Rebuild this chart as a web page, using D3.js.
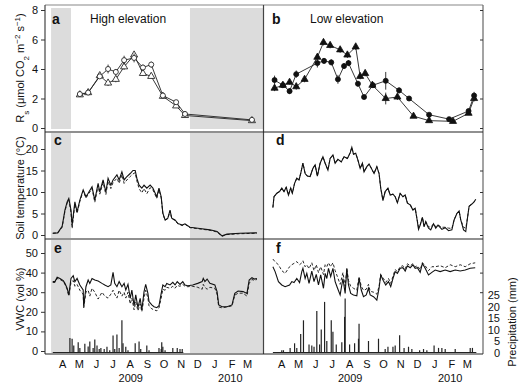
<!DOCTYPE html>
<html><head><meta charset="utf-8">
<script src="https://cdn.jsdelivr.net/npm/d3@7"></script>
<style>
body{margin:0;background:#fff}
svg{display:block}
text{font-family:"Liberation Sans",Arial,Helvetica,sans-serif;fill:#111}
</style>
</head><body>
<svg id="chart" width="520" height="390"></svg>
<script>
// ---------- DATA (day offsets counted from 14 Mar 2009) ----------
const monthLabels = ["A","M","J","J","A","S","O","N","D","J","F","M"];
const monthDates  = ["2009-04-15","2009-05-15","2009-06-15","2009-07-15","2009-08-15","2009-09-15","2009-10-15","2009-11-15","2009-12-15","2010-01-15","2010-02-15","2010-03-15"];
const yearLabels  = ["2009","2010"];
const yearDates   = ["2009-08-16","2010-02-12"];
const rsTicks   = [0,2,4,6,8];
const tempTicks = [0,5,10,15,20];
const vwcTicks  = [0,10,20,30,40,50];
const precTicks = [0,5,10,15,20,25];

// shaded (snow) periods, high elevation: [startDay, endDay]
const shadeHigh = [[11,47],[262,394]];

// Panel a: Rs high elevation
const rsHighDay      = [63,78,99,114,128,143,161,177,192,213,237,253,374];
const rsHighCircle   = [2.3,2.4,3.5,4.0,3.8,4.6,4.75,4.1,4.3,2.2,1.75,0.95,0.55];
const rsHighCircleE  = [0.1,0.1,0.15,0.3,0.2,0.3,0.3,0.2,0.2,0.1,0.1,0.05,0.05];
const rsHighTri      = [2.25,2.4,3.55,3.05,3.3,4.15,4.95,3.7,3.5,2.15,1.5,0.85,0.5];
const rsHighTriE     = [0.1,0.1,0.15,0.2,0.2,0.2,0.2,0.15,0.15,0.1,0.1,0.05,0.05];

// Panel b: Rs low elevation
const rsLowCircleDay = [19,34,46,58,96,108,121,133,144,152,169,180,196,219,243,261,297,333,368,378];
const rsLowCircle    = [3.25,2.9,2.5,3.65,4.4,4.55,4.45,3.3,4.2,4.4,3.0,2.1,2.9,3.2,2.55,2.0,0.9,0.6,1.15,2.2];
const rsLowCircleE   = [0.3,0.15,0.2,0.25,0.3,0.2,0.2,0.3,0.2,0.2,0.2,0.15,0.15,0.6,0.2,0.15,0.1,0.1,0.15,0.25];
const rsLowTriDay    = [19,34,46,58,73,96,107,119,137,150,165,173,182,195,219,240,269,297,340,368,378];
const rsLowTri       = [2.7,2.9,3.1,2.8,3.3,4.8,5.8,5.6,5.3,4.95,5.5,3.5,3.7,2.9,2.0,2.1,0.8,0.5,0.45,1.0,2.0];
const rsLowTriE      = [0.2,0.15,0.15,0.2,0.2,0.2,0.2,0.2,0.2,0.2,0.2,0.2,0.2,0.15,0.4,0.2,0.1,0.1,0.1,0.1,0.2];

// Panel c: soil temperature high elevation
const tempHighDay    = [14,23,31,36,40,43,47,49,54,58,63,69,74,78,85,90,96,99,105,110,114,119,123,130,134,139,143,148,154,159,163,166,170,175,179,184,190,195,202,206,210,213,217,222,226,229,235,240,248,253,262,280,298,311,320,329,352,383];
const tempHighSolid  = [0.4,0.5,2,5.8,7.7,8.5,5.8,2.3,7.7,5.4,8.1,10.5,8.9,9.7,11.2,8.1,12,10,12.8,10,13.2,11.6,12.8,14,12.8,14.7,12.8,13.6,14.3,15,15,13.2,11.6,10.9,11.6,10.9,11.6,10.9,8.9,10.9,8.9,5.1,3.5,3.9,5.8,3.9,3.5,2.7,2.3,2.6,1.8,1.5,1.2,0.8,-0.2,0.2,0.4,0.5];
const tempHighDash   = [0.4,0.5,1.8,5.5,7.4,8.2,5.2,1.5,7.2,5.0,7.8,10.2,8.6,9.4,10.8,7.6,11.5,9.5,12.2,9.4,12.5,10.8,12.2,13.2,12.0,14.0,12.0,12.8,13.6,14.2,14.5,12.6,10.8,9.8,10.8,9.6,11.0,10.5,8.5,10.5,8.6,5.0,3.4,3.8,5.6,3.8,3.4,2.6,2.2,2.5,1.7,1.4,1.1,0.7,-0.3,0.1,0.3,0.4];

// Panel d: soil temperature low elevation
const tempLowDay     = [16,18,23,28,32,36,40,44,48,51,55,59,63,66,70,74,78,83,88,92,96,101,106,110,115,119,124,128,133,139,144,150,155,158,161,165,169,173,177,180,185,189,194,198,203,207,210,214,218,223,227,232,236,240,245,250,254,258,263,268,272,275,278,281,285,288,291,296,300,305,309,313,320,326,332,338,342,347,351,354,359,363,366,369,374,378,381];
const tempLowSolid   = [6.4,8.9,9.7,10.1,10.9,10.1,11.1,9.3,10.9,9.7,12,13.2,12.8,14.3,16.7,14.3,13.7,13.6,15.5,16.3,13.7,16.7,18.2,16.7,15.1,17.8,18.6,16.7,17.6,17,18.2,17.8,19.1,20.4,18.8,19,17.4,15.5,16.7,14.7,15.9,16.5,15.3,14.3,15.9,14.3,10.9,8,10.1,10.9,9.3,9.5,8.9,7.5,9.7,8.9,9.3,7.4,7,5.8,6.2,3.9,1.3,2.3,4.1,1.9,3.1,1.6,1.2,2.6,1.6,2.3,1.3,1.7,1.0,1.2,3.5,5,5.6,3.5,1.2,0.8,3.9,6.7,7.2,7.7,8.3];
const tempLowDash    = [6.4,8.9,9.7,10.1,10.9,10.1,11.1,9.3,10.9,9.7,12,13.2,12.8,14.3,16.7,14.3,13.7,13.6,15.5,16.3,13.7,16.7,18.2,16.7,15.1,17.8,18.6,16.7,17.6,17,18.2,17.8,19.1,20.4,18.8,19,17.4,15.5,16.7,14.7,15.9,16.5,15.3,14.3,15.9,14.3,10.9,8.2,10.1,10.9,9.3,9.5,8.9,7.6,9.7,8.9,9.3,7.5,7.1,5.9,6.2,4.0,1.8,2.4,4.1,2.2,3.1,1.9,1.8,2.6,1.9,2.3,1.8,1.8,1.6,1.5,3.5,5,5.6,3.5,1.8,1.6,3.9,6.7,7.2,7.7,8.3];

// Panel e: VWC high elevation
const vwcHighDay     = [14,18,22,27,33,36,40,43,47,51,54,58,63,69,70,74,78,81,85,90,96,103,108,114,119,123,126,130,134,139,143,146,150,154,157,161,164,168,172,175,179,182,186,188,193,197,202,206,210,213,217,220,226,231,235,239,244,249,253,258,267,276,284,286,289,293,298,307,311,314,320,329,338,343,349,358,365,369,374,378,383];
const vwcHighSolid   = [35.4,35.4,37.6,37,35.9,34.5,32,28.6,37,38.4,35.4,37,33.7,31.1,22.6,32.8,36.2,34.5,37,36.2,35.7,34.5,33.7,32.8,33.7,40.1,34.5,32.8,35.4,32.8,34.5,31.1,34,26.9,31.1,23.1,28.6,22.1,26.9,20.9,30.3,34,29.4,25.2,23.5,22.6,22.1,23.1,29.4,33.7,32.8,34.5,33.7,35,33.7,35.4,34,35.4,33.7,33.3,33.7,34.5,35.4,37,35.4,36.7,34.5,33.7,30.3,23.5,22.6,22.6,23.5,29.4,30.6,30.3,29.4,36.2,37.4,36.7,37];
const vwcHighDash    = [35,35,37,36.5,35.5,34,31.5,28,35,36,33,34,31,29,22,30,31,28,32,30,26.5,30,28,27,29,31,29,27,31,28,30,27,30,24,27,21,25,20.5,24,20,27,31,27,23,21.5,21,20.5,22,27,31.5,31,32.5,32,33,32,33.5,33,34,33,32.8,33,32.5,31.5,34,32.5,31.5,32.5,32,29,22.5,22,22.5,23,28.5,29.5,29.5,28,34.5,36.5,36,36.5];

// Panel f: VWC low elevation
const vwcLowDay      = [16,20,26,32,38,46,50,54,59,64,68,70,74,77,81,86,90,94,98,102,107,110,113,116,120,124,128,132,137,142,146,149,152,156,161,167,171,175,179,184,188,191,197,203,207,210,215,219,224,228,233,236,240,245,250,254,258,263,268,272,276,281,285,290,296,302,308,317,326,335,344,353,362,371,380];
const vwcLowSolid    = [43,40.5,35.4,33.7,32.8,33.7,35.4,34.9,37,34.9,40.5,42.2,37,39.6,34.5,40.8,35.4,39.1,33.7,38.8,32,39.6,37,42.2,37.9,42.2,35.4,32.3,28.6,37,29.4,42.2,33.7,29.4,28.6,28.2,37,31.1,27.7,28.6,32,28.6,27.7,26,32,38.8,35.7,33.7,35.4,32.8,37.9,40.5,39.6,42.2,42.5,40.8,43.5,42.5,43.9,42.2,42.5,40.1,44.7,42.2,38.8,40.1,41.3,40.5,41.3,40.5,41.3,40.8,41.3,42.2,42.5];
const vwcLowDash     = [46.9,45.5,44,41,39.6,43,44,44.7,45.6,44,45,46,43,44,42,45,41,44,40,43,39,44,43,45,43,45,41,38,34,40,33,42,36,33,32,31,38,33,31,31.5,34,30.5,30,29,33,39,37,35,37,34.5,39,41.5,40.5,43,43.5,42,44.5,43.5,44.5,43,43.5,41.5,45,43.5,41,43,43,43.5,42.5,44,43,44,43,44.5,45];

// Precipitation (mm); record periods [startDay, endDay]
const precHighRange  = [14,250];
const precHighDay    = [45,49,52,60,63,72,78,81,87,90,94,98,101,107,112,117,123,126,130,134,139,141,146,150,163,170,173,184,188,206,210,211,213,217,231,239,244,248];
const precHigh       = [6.3,6,3,4.5,2,3.8,2.6,4.8,2,5.7,3,1.5,2,1.5,2.5,1,7.4,1.5,7.8,2,14,4,2.5,1,4,4.8,1.5,3,1,2,1.5,4.5,2.5,1,2,2,1.5,1.5];
const precLowRange   = [16,382];
const precLowDay     = [32,35,47,55,59,66,71,81,86,90,95,100,103,109,113,121,124,130,140,145,146,154,163,170,171,188,206,218,223,232,236,244,252,260,266,280,287,293,306,314,320,326,344,371,375];
const precLow        = [1,1,2,4,2,8,14,3.5,3,2.5,18,3.5,10,22,5,14,9,3.5,4.5,15.5,23.5,3.5,4,6,12.5,5,6,1.5,2.5,2.5,3,7.5,2,2.5,1.5,1,1.5,1,3,2,2,1.5,1.5,2,2];

// ---------- DRAWING ----------
const svg = d3.select("#chart");
const START = new Date(2009, 2, 14);
const END = d3.timeDay.offset(START, 394);
const toDate = d => d3.timeDay.offset(START, d);
const parse = d3.timeParse("%Y-%m-%d");

const xL = d3.scaleTime().domain([START, END]).range([45, 263]);
const xR = d3.scaleTime().domain([START, END]).range([264, 483]);

const yRs   = d3.scaleLinear().domain([0, 8]).range([128, 10]);
const yTemp = d3.scaleLinear().domain([0, 20]).range([235, 149]);
const yVwc  = d3.scaleLinear().domain([0, 50]).range([351, 253]);
const yPrec = d3.scaleLinear().domain([0, 25]).range([352.5, 295]);

// shading
const shadeG = svg.append("g");
[[8,129],[133,238],[240,353]].forEach(([y0,y1]) => {
  shadeHigh.forEach(([d0,d1]) => {
    shadeG.append("rect")
      .attr("x", xL(toDate(d0))).attr("y", y0)
      .attr("width", xL(toDate(d1)) - xL(toDate(d0))).attr("height", y1 - y0)
      .attr("fill", "#dcdcdc");
  });
});

// frame
const frame = svg.append("g").attr("stroke-width", 1.2).attr("fill", "none");
frame.append("line").attr("x1",45).attr("x2",483).attr("y1",5).attr("y2",5).attr("stroke","#888");
frame.append("line").attr("x1",483).attr("x2",483).attr("y1",5).attr("y2",354).attr("stroke","#666");
frame.append("line").attr("x1",45).attr("x2",45).attr("y1",5).attr("y2",354).attr("stroke","#444");
frame.append("line").attr("x1",263.5).attr("x2",263.5).attr("y1",5).attr("y2",354).attr("stroke","#444");
frame.append("line").attr("x1",45).attr("x2",483).attr("y1",132).attr("y2",132).attr("stroke","#222");
frame.append("line").attr("x1",45).attr("x2",483).attr("y1",239).attr("y2",239).attr("stroke","#222");
frame.append("line").attr("x1",45).attr("x2",483).attr("y1",354).attr("y2",354).attr("stroke","#222");

// axes
function leftAxis(scale, ticks) {
  const g = svg.append("g").attr("transform", "translate(45,0)")
    .call(d3.axisLeft(scale).tickValues(ticks).tickSize(4).tickPadding(3));
  g.select(".domain").remove();
  g.selectAll("line").attr("stroke", "#333");
  g.selectAll("text").style("font-size", "11px").attr("fill", "#222");
}
function innerRight(scale, ticks) {
  const g = svg.append("g").attr("transform", "translate(483,0)")
    .call(d3.axisLeft(scale).tickValues(ticks).tickSize(3).tickFormat(""));
  g.select(".domain").remove();
  g.selectAll("line").attr("stroke", "#333");
}
leftAxis(yRs, rsTicks);
leftAxis(yTemp, tempTicks);
leftAxis(yVwc, vwcTicks);
innerRight(yRs, rsTicks);
innerRight(yTemp, tempTicks);
innerRight(yVwc, vwcTicks.filter(v => v >= 30));
{
  const g = svg.append("g").attr("transform", "translate(483,0)")
    .call(d3.axisRight(yPrec).tickValues(precTicks).tickSize(0).tickPadding(5));
  g.select(".domain").remove();
  g.selectAll("text").style("font-size", "11px").attr("fill", "#222")
    .attr("text-anchor", "end").attr("x", 17);
}

// month + year labels
[xL, xR].forEach(x => {
  monthLabels.forEach((m, i) => {
    svg.append("text").attr("x", x(parse(monthDates[i]))).attr("y", 368)
      .attr("text-anchor", "middle").style("font-size", "11px").text(m);
  });
  yearLabels.forEach((y, i) => {
    svg.append("text").attr("x", x(parse(yearDates[i]))).attr("y", 382)
      .attr("text-anchor", "middle").style("font-size", "11px").text(y);
  });
});

// helper for time-series lines
function drawLine(x, y, days, vals, dashed) {
  const line = d3.line().x((d, i) => x(toDate(days[i]))).y(d => y(d));
  svg.append("path").datum(vals).attr("d", line)
    .attr("fill", "none").attr("stroke", "#111")
    .attr("stroke-width", dashed ? 0.9 : 1.1)
    .attr("stroke-dasharray", dashed ? "3,2" : null);
}
drawLine(xL, yTemp, tempHighDay, tempHighDash, true);
drawLine(xL, yTemp, tempHighDay, tempHighSolid, false);
drawLine(xR, yTemp, tempLowDay, tempLowDash, true);
drawLine(xR, yTemp, tempLowDay, tempLowSolid, false);
drawLine(xL, yVwc, vwcHighDay, vwcHighDash, true);
drawLine(xL, yVwc, vwcHighDay, vwcHighSolid, false);
drawLine(xR, yVwc, vwcLowDay, vwcLowDash, true);
drawLine(xR, yVwc, vwcLowDay, vwcLowSolid, false);

// precipitation bars
function drawBars(x, range, days, vals) {
  svg.append("line").attr("x1", x(toDate(range[0]))).attr("x2", x(toDate(range[1])))
    .attr("y1", yPrec(0)).attr("y2", yPrec(0)).attr("stroke", "#222").attr("stroke-width", 1.2);
  svg.append("g").selectAll("line").data(vals).join("line")
    .attr("x1", (d, i) => x(toDate(days[i]))).attr("x2", (d, i) => x(toDate(days[i])))
    .attr("y1", yPrec(0)).attr("y2", d => yPrec(d))
    .attr("stroke", "#222").attr("stroke-width", 1.2);
}
drawBars(xL, precHighRange, precHighDay, precHigh);
drawBars(xR, precLowRange, precLowDay, precLow);

// Rs series with markers
function drawRs(x, days, vals, errs, shape, filled) {
  const line = d3.line().x((d, i) => x(toDate(days[i]))).y(d => yRs(d));
  svg.append("path").datum(vals).attr("d", line)
    .attr("fill", "none").attr("stroke", "#222").attr("stroke-width", 0.9);
  svg.append("g").selectAll("line").data(vals).join("line")
    .attr("x1", (d, i) => x(toDate(days[i]))).attr("x2", (d, i) => x(toDate(days[i])))
    .attr("y1", (d, i) => yRs(d - errs[i])).attr("y2", (d, i) => yRs(d + errs[i]))
    .attr("stroke", "#222").attr("stroke-width", 0.9);
  const sym = d3.symbol().type(shape === "tri" ? d3.symbolTriangle : d3.symbolCircle)
    .size(shape === "tri" ? 22 : 20);
  svg.append("g").selectAll("path").data(vals).join("path")
    .attr("transform", (d, i) => `translate(${x(toDate(days[i]))},${yRs(d)})`)
    .attr("d", sym)
    .attr("fill", filled ? "#111" : "#fff")
    .attr("stroke", "#111").attr("stroke-width", 0.8);
}
drawRs(xL, rsHighDay, rsHighTri, rsHighTriE, "tri", false);
drawRs(xL, rsHighDay, rsHighCircle, rsHighCircleE, "circle", false);
drawRs(xR, rsLowTriDay, rsLowTri, rsLowTriE, "tri", true);
drawRs(xR, rsLowCircleDay, rsLowCircle, rsLowCircleE, "circle", true);

// panel letters and titles
const letters = [["a",52,24],["b",272,24],["c",54,145],["d",276,145],["e",54,253],["f",276,253]];
letters.forEach(([t, x, y]) => svg.append("text").attr("x", x).attr("y", y)
  .style("font-size", "14px").style("font-weight", "bold").text(t));
svg.append("text").attr("x", 90).attr("y", 23).style("font-size", "12px").text("High elevation");
svg.append("text").attr("x", 310).attr("y", 23).style("font-size", "12px").text("Low elevation");

// y-axis titles
const t1 = svg.append("text").attr("transform", "translate(24,68) rotate(-90)")
  .attr("text-anchor", "middle").style("font-size", "11px");
t1.append("tspan").text("R");
t1.append("tspan").attr("baseline-shift", "sub").style("font-size", "8px").text("s");
t1.append("tspan").text(" (μmol CO");
t1.append("tspan").attr("baseline-shift", "sub").style("font-size", "8px").text("2");
t1.append("tspan").text(" m");
t1.append("tspan").attr("baseline-shift", "super").style("font-size", "8px").text("−2");
t1.append("tspan").text(" s");
t1.append("tspan").attr("baseline-shift", "super").style("font-size", "8px").text("−1");
t1.append("tspan").text(")");
svg.append("text").attr("transform", "translate(24,188) rotate(-90)")
  .attr("text-anchor", "middle").style("font-size", "11px").text("Soil temperature (°C)");
svg.append("text").attr("transform", "translate(24,299) rotate(-90)")
  .attr("text-anchor", "middle").style("font-size", "11px").text("VWC (vol %)");
svg.append("text").attr("transform", "translate(516,322) rotate(-90)")
  .attr("text-anchor", "middle").style("font-size", "11px").text("Precipitation (mm)");
</script>
</body></html>
